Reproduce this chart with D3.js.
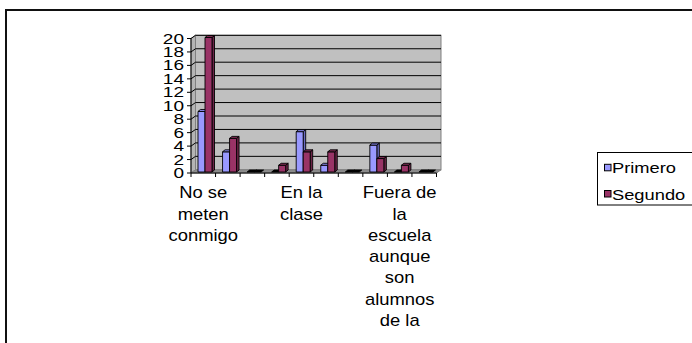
<!DOCTYPE html>
<html>
<head>
<meta charset="utf-8">
<script src="https://cdn.jsdelivr.net/npm/d3@7"></script>
<style>
  html, body { margin: 0; padding: 0; background: #fff; }
  svg { display: block; }
  text { font-family: Arial, "Liberation Sans", sans-serif; fill: #000; }
</style>
</head>
<body>
<svg id="chart" width="692" height="343"></svg>
<script>
// ---- data ----
const categories = ["No se meten conmigo", "", "", "", "En la clase", "", "", "", "Fuera de la escuela aunque son alumnos de la", ""];
const seriesNames = ["Primero", "Segundo"];
const primero = [9, 3, 0, 0, 6, 1, 0, 4, 0, 0];
const segundo = [20, 5, 0, 1, 3, 3, 0, 2, 1, 0];
const yTicks = [0, 2, 4, 6, 8, 10, 12, 14, 16, 18, 20];
const seriesColors = ["#9999ff", "#993366"];
const sideColors = ["#6b6bc2", "#6b2447"];
const topColors = ["#8585e8", "#7d2a53"];

const svg = d3.select("#chart");
const series = [primero, segundo];

// 3D depth vector of the plot walls
const D = { x: 4.5, y: -3.2 };

const x = d3.scaleBand().domain(d3.range(categories.length)).range([191, 436.5]).padding(0);
const y = d3.scaleLinear().domain([0, 20]).range([173, 38.5]);

// outer frame
svg.append("rect").attr("x", 6).attr("y", 10).attr("width", 720).attr("height", 400)
  .attr("fill", "#fff").attr("stroke", "#111").attr("stroke-width", 2);

const x0 = x.range()[0], x1 = x.range()[1];
const y0 = y(0), yTop = y(20);

// back wall
svg.append("rect")
  .attr("x", x0 + D.x).attr("y", yTop + D.y)
  .attr("width", x1 - x0).attr("height", y0 - yTop)
  .attr("fill", "#c0c0c0").attr("stroke", "#808080").attr("stroke-width", 1);

// side wall
svg.append("polygon")
  .attr("points", [[x0, y0], [x0 + D.x, y0 + D.y], [x0 + D.x, yTop + D.y], [x0, yTop]].join(" "))
  .attr("fill", "#b4b4b4").attr("stroke", "#808080").attr("stroke-width", 1);

// floor
svg.append("polygon")
  .attr("points", [[x0, y0], [x1, y0], [x1 + D.x, y0 + D.y], [x0 + D.x, y0 + D.y]].join(" "))
  .attr("fill", "#8c8c8c").attr("stroke", "#808080").attr("stroke-width", 1);

// gridlines (back wall + side wall)
const grid = svg.append("g");
yTicks.filter(t => t > 0).forEach(t => {
  grid.append("line")
    .attr("x1", x0 + D.x).attr("x2", x1 + D.x)
    .attr("y1", y(t) + D.y).attr("y2", y(t) + D.y)
    .attr("stroke", "#000").attr("stroke-width", 1);
  grid.append("line")
    .attr("x1", x0).attr("x2", x0 + D.x)
    .attr("y1", y(t)).attr("y2", y(t) + D.y)
    .attr("stroke", "#000").attr("stroke-width", 1);
});

// bars
const bw = 7, bOff = 7, bd = { x: 2.5, y: -2 };
const bars = svg.append("g");
categories.forEach((c, i) => {
  series.forEach((s, k) => {
    const v = s[i];
    const bx = x(i) + bOff + k * bw;
    const yb = y(0) - 1, yt = y(v) - 1;
    const g = bars.append("g").attr("stroke", "#000").attr("stroke-width", 0.9).attr("stroke-linejoin", "round");
    if (v > 0) {
      g.append("polygon")
        .attr("points", [[bx + bw, yt], [bx + bw + bd.x, yt + bd.y], [bx + bw + bd.x, yb + bd.y], [bx + bw, yb]].join(" "))
        .attr("fill", sideColors[k]);
      g.append("rect").attr("x", bx).attr("y", yt).attr("width", bw).attr("height", yb - yt)
        .attr("fill", seriesColors[k]);
    }
    g.append("polygon")
      .attr("points", [[bx, yt], [bx + bw, yt], [bx + bw + bd.x, yt + bd.y], [bx + bd.x, yt + bd.y]].join(" "))
      .attr("fill", v > 0 ? topColors[k] : "#000");
  });
});

// axes
const ax = svg.append("g").attr("stroke", "#000").attr("stroke-width", 1);
ax.append("line").attr("x1", x0).attr("x2", x0).attr("y1", y0).attr("y2", yTop);
ax.append("line").attr("x1", x0).attr("x2", x1).attr("y1", y0).attr("y2", y0);
yTicks.forEach(t => {
  ax.append("line").attr("x1", x0 - 4).attr("x2", x0).attr("y1", y(t)).attr("y2", y(t));
});
d3.range(categories.length + 1).forEach(i => {
  const xx = i < categories.length ? x(i) : x1;
  ax.append("line").attr("x1", xx).attr("x2", xx).attr("y1", y0).attr("y2", y0 + 4);
});

// y labels
const ySx = 1.27;
svg.append("g").selectAll("text").data(yTicks).join("text")
  .attr("transform", d => `translate(${x0 - 7},${y(d) + 5}) scale(${ySx},1)`)
  .attr("text-anchor", "end")
  .style("font-size", "15px")
  .text(d => d);

// category labels (wrapped)
const cSx = 1.15, maxW = 78, lineH = 21.3;
const catG = svg.append("g");
categories.forEach((c, i) => {
  if (!c) return;
  const t = catG.append("text")
    .attr("transform", `translate(${x(i) + x.bandwidth() / 2},${198.3}) scale(${cSx},1)`)
    .attr("text-anchor", "middle").style("font-size", "16px");
  const words = c.split(" ");
  let lines = [], cur = [];
  const probe = catG.append("text").style("font-size", "16px");
  words.forEach(w => {
    const test = cur.concat([w]).join(" ");
    probe.text(test);
    if (cur.length && probe.node().getComputedTextLength() * cSx > maxW) {
      lines.push(cur.join(" "));
      cur = [w];
    } else cur.push(w);
  });
  if (cur.length) lines.push(cur.join(" "));
  probe.remove();
  lines.forEach((l, j) => {
    t.append("tspan").attr("x", 0).attr("y", j * lineH).text(l);
  });
});

// legend
const lg = svg.append("g");
lg.append("rect").attr("x", 597.5).attr("y", 152.5).attr("width", 140).attr("height", 52.5)
  .attr("fill", "#fff").attr("stroke", "#000").attr("stroke-width", 1);
const lSx = 1.22;
seriesNames.forEach((n, k) => {
  const yy = 173.3 + k * 26.2;
  lg.append("rect").attr("x", 604.5).attr("y", yy - 9).attr("width", 6.5).attr("height", 6.5)
    .attr("fill", seriesColors[k]).attr("stroke", "#000").attr("stroke-width", 1);
  lg.append("text").attr("transform", `translate(612,${yy}) scale(${lSx},1)`)
    .style("font-size", "15px").text(n);
});
</script>
</body>
</html>
